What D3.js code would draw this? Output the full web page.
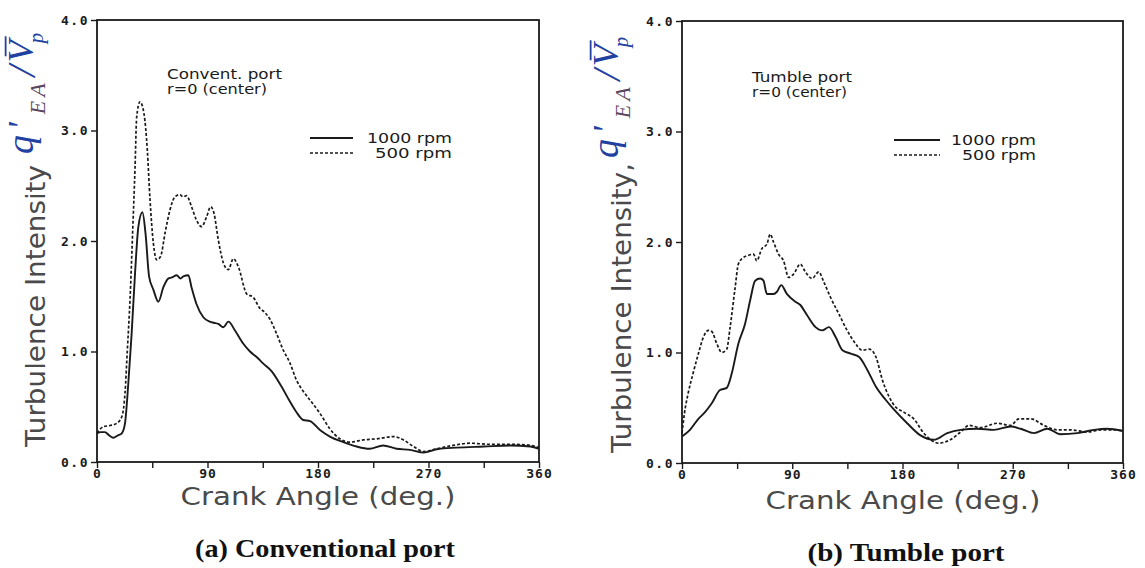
<!DOCTYPE html>
<html><head><meta charset="utf-8">
<script src="https://cdn.jsdelivr.net/npm/d3@7/dist/d3.min.js"></script>
<style>body{margin:0;background:#fff}svg{display:block}</style>
</head><body>
<svg id="chart" width="1145" height="568"></svg>
<script>
// ---------- data ----------
const crankTicks = [0, 90, 180, 270, 360];
const crankMinorTicks = [0, 45, 90, 135, 180, 225, 270, 315, 360];
const intensityTicks = [0, 1, 2, 3, 4];
const seriesNames = ["1000 rpm", "500 rpm"];
const panelNotes = [["Convent. port", "r=0 (center)"], ["Tumble port", "r=0 (center)"]];
const captions = ["(a) Conventional port", "(b) Tumble port"];
const yTitles = ["Turbulence Intensity", "Turbulence Intensity,"];
const xTitle = "Crank Angle (deg.)";

// [crank angle (deg), turbulence intensity]
const conv1000 = [[0,0.26],[3,0.27],[6.5,0.27],[10,0.24],[13.3,0.22],[17,0.24],[20.2,0.26],[22.8,0.35],[25.5,0.71],[28.2,1.16],[31,1.71],[33.7,2.13],[37,2.26],[39.6,2.06],[42.4,1.68],[45.9,1.56],[50,1.45],[54,1.58],[58,1.66],[61,1.67],[64.9,1.69],[68,1.66],[70.3,1.68],[74.4,1.69],[77,1.58],[81,1.43],[86.6,1.31],[92,1.27],[95,1.26],[98.8,1.25],[102.9,1.22],[107,1.27],[112.4,1.19],[119.2,1.07],[124.6,1.0],[130,0.95],[135.5,0.89],[142.3,0.82],[150.4,0.68],[157,0.55],[162.5,0.45],[168,0.38],[173.5,0.37],[181.6,0.29],[189.7,0.23],[200.6,0.18],[211.5,0.14],[222,0.12],[233,0.15],[244,0.12],[255,0.11],[266,0.085],[276.7,0.115],[293,0.13],[315,0.14],[336.6,0.15],[353,0.14],[360,0.12]];
const conv500 = [[0,0.26],[5.2,0.32],[10.6,0.33],[16,0.35],[20.2,0.41],[22.8,0.62],[24.7,1.01],[26.9,1.47],[29,2.07],[31,2.67],[32.3,3.12],[35,3.26],[38.3,3.15],[41,2.82],[43.2,2.37],[45.9,1.98],[48.6,1.83],[51.8,1.86],[55.4,2.07],[59.4,2.28],[63.5,2.40],[67.6,2.42],[70,2.40],[73,2.41],[77,2.31],[81,2.19],[85.2,2.13],[89.3,2.22],[92.6,2.31],[95.3,2.25],[98.8,2.01],[103,1.80],[107,1.74],[111,1.84],[115,1.77],[122,1.52],[127.3,1.49],[132.7,1.39],[136,1.36],[141,1.29],[146.3,1.16],[151.8,1.01],[157,0.9],[162.5,0.74],[168,0.64],[173.5,0.56],[181.6,0.44],[189.7,0.30],[197.8,0.21],[206,0.18],[217,0.20],[228,0.21],[241.5,0.23],[249.6,0.20],[257.8,0.14],[266,0.095],[276.7,0.12],[290,0.15],[303.6,0.17],[320,0.16],[336.6,0.16],[350,0.155],[360,0.13]];
const tumble1000 = [[0,0.24],[6.5,0.30],[13.4,0.40],[18.8,0.46],[24.3,0.54],[31,0.66],[36.5,0.68],[40.6,0.81],[46,1.08],[51.5,1.26],[55.6,1.47],[59.7,1.65],[63.8,1.67],[66.5,1.65],[69.3,1.53],[74.7,1.53],[77.5,1.55],[81,1.61],[85.6,1.53],[92.5,1.46],[96.6,1.43],[102,1.34],[109,1.23],[114.5,1.20],[120,1.23],[125.4,1.14],[131,1.02],[137.8,0.99],[144.6,0.96],[151.4,0.84],[158.3,0.69],[166.4,0.57],[173.3,0.48],[183.8,0.36],[194.7,0.25],[205.6,0.21],[216.5,0.27],[227.4,0.30],[241,0.31],[254.6,0.30],[268.3,0.33],[276.4,0.31],[287.3,0.27],[298.2,0.31],[309,0.26],[322.7,0.27],[336.3,0.30],[347,0.31],[360,0.29]];
const tumble500 = [[0,0.27],[2,0.45],[5,0.63],[9,0.81],[13.4,0.99],[17.5,1.14],[21.5,1.20],[24.3,1.19],[28.4,1.08],[32.5,1.0],[36.5,1.03],[39.3,1.23],[43.4,1.59],[46,1.80],[50.2,1.86],[54.3,1.88],[58.4,1.89],[61,1.83],[65.2,1.94],[69.3,1.98],[72,2.07],[74.7,2.0],[78.8,1.89],[82.9,1.83],[87,1.68],[91.1,1.71],[96.6,1.80],[100.7,1.73],[106.2,1.67],[111.6,1.73],[115.7,1.64],[121.2,1.50],[128,1.35],[134.8,1.20],[141.7,1.08],[147,1.02],[152.8,1.03],[158.3,0.96],[163.6,0.75],[169,0.60],[173.3,0.52],[181,0.46],[189.2,0.40],[197.4,0.27],[209.6,0.18],[219,0.21],[227.4,0.28],[234.2,0.34],[243.7,0.32],[257.4,0.36],[268.3,0.34],[275,0.40],[284.6,0.40],[295.5,0.34],[306.4,0.30],[317.3,0.30],[331,0.28],[342,0.30],[352.6,0.30],[360,0.29]];

// ---------- layout ----------
const panels = [
  {left:97, right:539, top:20, bottom:462, s1000:conv1000, s500:conv500, notes:panelNotes[0], caption:captions[0], yTitle:yTitles[0],
   noteX:167, noteY:79, noteLen:[115,100], legX1:310, legX2:353, legTextX:452, legY:138, legLen:[85,77],
   yTitleX:45, yTitleY:447, yTitleLen:282, mathX:33, mathY:154,
   xTitleX:318, xTitleY:505, capX:325, capY:557, capLen:260},
  {left:682, right:1123, top:21, bottom:463, s1000:tumble1000, s500:tumble500, notes:panelNotes[1], caption:captions[1], yTitle:yTitles[1],
   noteX:752, noteY:82, noteLen:[100,95], legX1:894, legX2:940, legTextX:1036, legY:140, legLen:[85,74],
   yTitleX:631, yTitleY:453, yTitleLen:290, mathX:618, mathY:158,
   xTitleX:903, xTitleY:509, capX:906, capY:561, capLen:197}
];

const svg = d3.select("#chart");
const ink = "#1a1a1a";
const mono = "'DejaVu Sans Mono', monospace";
const sans = "'DejaVu Sans', sans-serif";
const serif = "'Liberation Serif', 'Times New Roman', serif";
const blue = "#2140a0";

function mathLabel(gx, gy){
  const g = svg.append("g").attr("transform", `translate(${gx},${gy}) rotate(-90)`);
  const parts = [
    {t:"q", s:38, dy:0, c:blue},
    {t:"'", s:36, dy:0, c:blue, pre:5},
    {t:"EA", s:22, dy:12, c:"#5a4660", pre:8, ls:4},
    {t:"/", s:40, dy:2, c:blue, pre:3},
    {t:"V", s:36, dy:0, c:blue, pre:3, bar:true},
    {t:"p", s:21, dy:10, c:blue, pre:-3}
  ];
  let cx = 0;
  parts.forEach(p => {
    cx += (p.pre || 0);
    const t = g.append("text").attr("x", cx).attr("y", p.dy)
      .attr("font-family", serif).attr("font-style","italic")
      .attr("letter-spacing", p.ls || 0)
      .attr("font-size", p.s).attr("fill", p.c).text(p.t);
    const w = t.node().getComputedTextLength();
    if (p.bar) {
      g.append("line").attr("x1", cx+6).attr("x2", cx+w+4).attr("y1", -p.s*0.76).attr("y2", -p.s*0.76)
        .attr("stroke", p.c).attr("stroke-width", 1.8);
    }
    cx += w;
  });
}

panels.forEach(p => {
  const x = d3.scaleLinear().domain([0, 360]).range([p.left, p.right]);
  const y = d3.scaleLinear().domain([0, 4]).range([p.bottom, p.top]);
  const g = svg.append("g");

  // x axis
  const xa = g.append("g").attr("transform", `translate(0,${p.bottom})`)
    .call(d3.axisBottom(x).tickValues(crankMinorTicks).tickSize(6).tickPadding(1)
      .tickFormat(d => crankTicks.includes(d) ? String(d) : ""));
  xa.select(".domain").remove();
  xa.selectAll("line").attr("stroke", ink).attr("stroke-width", 1.4);
  xa.selectAll("text").attr("font-family", mono).attr("font-weight", "bold")
    .attr("font-size", 13).attr("fill", ink).attr("letter-spacing", 1);

  // y axis
  const ya = g.append("g").attr("transform", `translate(${p.left},0)`)
    .call(d3.axisLeft(y).tickValues(intensityTicks).tickSize(6).tickPadding(2).tickFormat(d3.format(".1f")));
  ya.select(".domain").remove();
  ya.selectAll("line").attr("stroke", ink).attr("stroke-width", 1.4);
  ya.selectAll("text").attr("font-family", mono).attr("font-weight", "bold")
    .attr("font-size", 13).attr("fill", ink).attr("letter-spacing", 1.5);

  // frame
  g.append("rect").attr("x", p.left).attr("y", p.top)
    .attr("width", p.right - p.left).attr("height", p.bottom - p.top)
    .attr("fill", "none").attr("stroke", ink).attr("stroke-width", 1.8);

  // series
  const line = d3.line().x(d => x(d[0])).y(d => y(d[1])).curve(d3.curveMonotoneX);
  g.append("path").datum(p.s1000).attr("d", line).attr("fill", "none")
    .attr("stroke", ink).attr("stroke-width", 1.9);
  g.append("path").datum(p.s500).attr("d", line).attr("fill", "none")
    .attr("stroke", ink).attr("stroke-width", 1.7).attr("stroke-dasharray", "3,2");

  // notes
  p.notes.forEach((n, i) => {
    g.append("text").attr("x", p.noteX).attr("y", p.noteY + i * 15).attr("font-family", sans)
      .attr("font-size", 14).attr("fill", ink)
      .attr("textLength", p.noteLen[i]).attr("lengthAdjust", "spacingAndGlyphs").text(n);
  });

  // legend
  [0, 1].forEach(i => {
    const ly = p.legY + i * 15;
    g.append("line").attr("x1", p.legX1).attr("x2", p.legX2).attr("y1", ly).attr("y2", ly)
      .attr("stroke", ink).attr("stroke-width", i === 0 ? 1.9 : 1.7)
      .attr("stroke-dasharray", i === 0 ? null : "3,2");
    g.append("text").attr("x", p.legTextX).attr("y", ly + 5).attr("text-anchor", "end")
      .attr("font-family", sans).attr("font-size", 14).attr("fill", ink)
      .attr("textLength", p.legLen[i]).attr("lengthAdjust", "spacingAndGlyphs").text(seriesNames[i]);
  });

  // axis titles
  g.append("text").attr("x", p.xTitleX).attr("y", p.xTitleY).attr("text-anchor", "middle")
    .attr("font-family", sans).attr("font-size", 25).attr("fill", "#4a4a4a")
    .attr("textLength", 275).attr("lengthAdjust", "spacingAndGlyphs").text(xTitle);
  g.append("text").attr("transform", `translate(${p.yTitleX},${p.yTitleY}) rotate(-90)`)
    .attr("font-family", sans).attr("font-size", 26).attr("fill", "#4a4a4a")
    .attr("textLength", p.yTitleLen).attr("lengthAdjust", "spacingAndGlyphs").text(p.yTitle);
  mathLabel(p.mathX, p.mathY);

  // caption
  g.append("text").attr("x", p.capX).attr("y", p.capY).attr("text-anchor", "middle")
    .attr("font-family", serif).attr("font-weight", "bold").attr("font-size", 25).attr("fill", "#111")
    .attr("textLength", p.capLen).attr("lengthAdjust", "spacingAndGlyphs").text(p.caption);
});
</script>
</body></html>
